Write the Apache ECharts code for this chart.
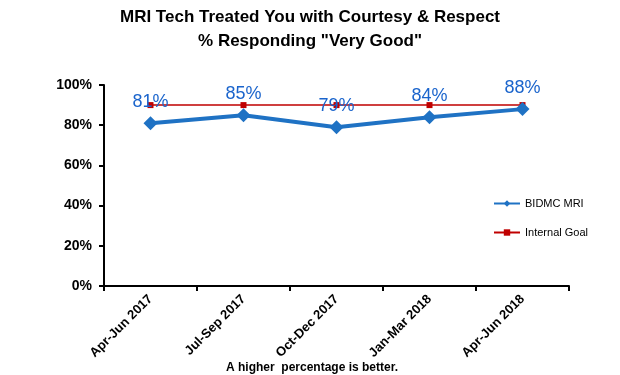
<!DOCTYPE html>
<html>
<head>
<meta charset="utf-8">
<script src="https://cdn.jsdelivr.net/npm/echarts@6/dist/echarts.min.js"></script>
<style>
html, body { margin: 0; padding: 0; background: #fff; }
#main { width: 620px; height: 375px; }
</style>
</head>
<body>
<div id="main"></div>
<script>
var categories = ['Apr-Jun 2017', 'Jul-Sep 2017', 'Oct-Dec 2017', 'Jan-Mar 2018', 'Apr-Jun 2018'];
var mriValues = [81, 85, 79, 84, 88];
var goalValues = [90, 90, 90, 90, 90];

var chartDom = document.getElementById('main');
var myChart = echarts.init(chartDom);
var option;

option = {
    backgroundColor: '#fff',
    animation: false,
    title: [{
        text: 'MRI Tech Treated You with Courtesy & Respect\n% Responding "Very Good"',
        left: 'center',
        top: 0,
        textStyle: { fontFamily: 'Liberation Sans', fontSize: 17, fontWeight: 'bold', color: '#000', lineHeight: 24 }
    }, {
        text: 'A higher  percentage is better.',
        left: 307,
        textAlign: 'center',
        top: 357,
        textStyle: { fontFamily: 'Liberation Sans', fontSize: 12, fontWeight: 'bold', color: '#000' }
    }],
    legend: {
        orient: 'vertical',
        left: 488,
        top: 193,
        itemGap: 18,
        itemWidth: 26,
        itemHeight: 8,
        textStyle: { fontFamily: 'Liberation Sans', fontSize: 11, color: '#000' },
        data: ['BIDMC MRI', 'Internal Goal']
    },
    grid: {
        left: 104,
        right: 51,
        top: 85,
        bottom: 89
    },
    xAxis: {
        type: 'category',
        data: categories,
        boundaryGap: true,
        axisLine: { lineStyle: { color: '#000', width: 2 } },
        axisTick: { show: true, length: 5, lineStyle: { color: '#000', width: 2 } },
        axisLabel: {
            rotate: 45,
            interval: 0,
            margin: 11,
            fontFamily: 'Liberation Sans',
            fontSize: 13,
            fontWeight: 'bold',
            color: '#000'
        }
    },
    yAxis: {
        type: 'value',
        min: 0,
        max: 100,
        interval: 20,
        splitLine: { show: false },
        axisLine: { show: true, lineStyle: { color: '#000', width: 2 } },
        axisTick: { show: true, length: 5, lineStyle: { color: '#000', width: 2 } },
        axisLabel: {
            formatter: '{value}%',
            margin: 12,
            fontFamily: 'Liberation Sans',
            fontSize: 14,
            fontWeight: 'bold',
            color: '#000'
        }
    },
    series: [
        {
            name: 'Internal Goal',
            type: 'line',
            data: goalValues,
            symbol: 'rect',
            symbolSize: 6,
            z: 2,
            itemStyle: { color: '#c00000' },
            lineStyle: { color: '#c00000', width: 1.5 }
        },
        {
            name: 'BIDMC MRI',
            type: 'line',
            data: mriValues,
            symbol: 'diamond',
            symbolSize: 14,
            z: 3,
            itemStyle: { color: '#1f72c4' },
            lineStyle: { color: '#1f72c4', width: 4 },
            label: {
                show: true,
                position: 'top',
                distance: 5,
                formatter: '{c}%',
                fontFamily: 'Liberation Sans',
                fontSize: 18,
                color: '#1a64cc'
            }
        }
    ]
};

option && myChart.setOption(option);
</script>
</body>
</html>
